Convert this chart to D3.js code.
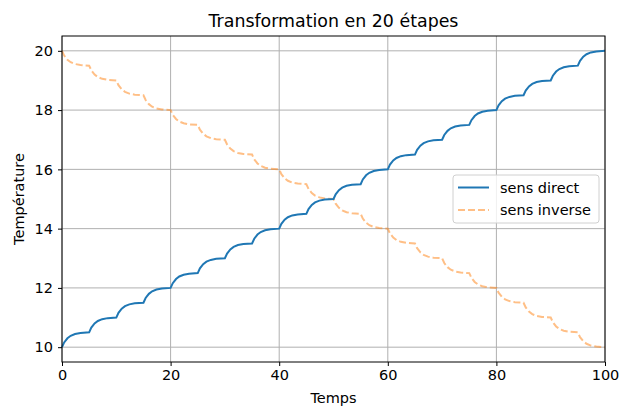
<!DOCTYPE html>
<html>
<head>
<meta charset="utf-8">
<script src="https://cdn.jsdelivr.net/npm/d3@7"></script>
<style>
    body { margin: 0; background: #fff; }
    text { font-family: "DejaVu Sans", sans-serif; }
</style>
</head>
<body>
<div id="chart"></div>
<script>
// time samples (s)
const times = [
    0, 0.4, 1, 1.6, 2.4, 3.4,
    5, 5.4, 6, 6.6, 7.4, 8.4,
    10, 10.4, 11, 11.6, 12.4, 13.4,
    15, 15.4, 16, 16.6, 17.4, 18.4,
    20, 20.4, 21, 21.6, 22.4, 23.4,
    25, 25.4, 26, 26.6, 27.4, 28.4,
    30, 30.4, 31, 31.6, 32.4, 33.4,
    35, 35.4, 36, 36.6, 37.4, 38.4,
    40, 40.4, 41, 41.6, 42.4, 43.4,
    45, 45.4, 46, 46.6, 47.4, 48.4,
    50, 50.4, 51, 51.6, 52.4, 53.4,
    55, 55.4, 56, 56.6, 57.4, 58.4,
    60, 60.4, 61, 61.6, 62.4, 63.4,
    65, 65.4, 66, 66.6, 67.4, 68.4,
    70, 70.4, 71, 71.6, 72.4, 73.4,
    75, 75.4, 76, 76.6, 77.4, 78.4,
    80, 80.4, 81, 81.6, 82.4, 83.4,
    85, 85.4, 86, 86.6, 87.4, 88.4,
    90, 90.4, 91, 91.6, 92.4, 93.4,
    95, 95.4, 96, 96.6, 97.4, 98.4,
    100
];

const sensDirect = [
    10, 10.16, 10.30, 10.385, 10.445, 10.48,
    10.5, 10.66, 10.80, 10.885, 10.945, 10.98,
    11, 11.16, 11.30, 11.385, 11.445, 11.48,
    11.5, 11.66, 11.80, 11.885, 11.945, 11.98,
    12, 12.16, 12.30, 12.385, 12.445, 12.48,
    12.5, 12.66, 12.80, 12.885, 12.945, 12.98,
    13, 13.16, 13.30, 13.385, 13.445, 13.48,
    13.5, 13.66, 13.80, 13.885, 13.945, 13.98,
    14, 14.16, 14.30, 14.385, 14.445, 14.48,
    14.5, 14.66, 14.80, 14.885, 14.945, 14.98,
    15, 15.16, 15.30, 15.385, 15.445, 15.48,
    15.5, 15.66, 15.80, 15.885, 15.945, 15.98,
    16, 16.16, 16.30, 16.385, 16.445, 16.48,
    16.5, 16.66, 16.80, 16.885, 16.945, 16.98,
    17, 17.16, 17.30, 17.385, 17.445, 17.48,
    17.5, 17.66, 17.80, 17.885, 17.945, 17.98,
    18, 18.16, 18.30, 18.385, 18.445, 18.48,
    18.5, 18.66, 18.80, 18.885, 18.945, 18.98,
    19, 19.16, 19.30, 19.385, 19.445, 19.48,
    19.5, 19.66, 19.80, 19.885, 19.945, 19.98,
    20
];

const sensInverse = [
    20, 19.84, 19.70, 19.615, 19.555, 19.52,
    19.5, 19.34, 19.20, 19.115, 19.055, 19.02,
    19, 18.84, 18.70, 18.615, 18.555, 18.52,
    18.5, 18.34, 18.20, 18.115, 18.055, 18.02,
    18, 17.84, 17.70, 17.615, 17.555, 17.52,
    17.5, 17.34, 17.20, 17.115, 17.055, 17.02,
    17, 16.84, 16.70, 16.615, 16.555, 16.52,
    16.5, 16.34, 16.20, 16.115, 16.055, 16.02,
    16, 15.84, 15.70, 15.615, 15.555, 15.52,
    15.5, 15.34, 15.20, 15.115, 15.055, 15.02,
    15, 14.84, 14.70, 14.615, 14.555, 14.52,
    14.5, 14.34, 14.20, 14.115, 14.055, 14.02,
    14, 13.84, 13.70, 13.615, 13.555, 13.52,
    13.5, 13.34, 13.20, 13.115, 13.055, 13.02,
    13, 12.84, 12.70, 12.615, 12.555, 12.52,
    12.5, 12.34, 12.20, 12.115, 12.055, 12.02,
    12, 11.84, 11.70, 11.615, 11.555, 11.52,
    11.5, 11.34, 11.20, 11.115, 11.055, 11.02,
    11, 10.84, 10.70, 10.615, 10.555, 10.52,
    10.5, 10.34, 10.20, 10.115, 10.055, 10.02,
    10
];

const xTicks = [0, 20, 40, 60, 80, 100];
const yTicks = [10, 12, 14, 16, 18, 20];
const seriesNames = ["sens direct", "sens inverse"];

const dim = { width: 629, height: 406 };
const margin = { top: 36, left: 62, right: 24, bottom: 44 };
const fontSize = 14.5;

const svg = d3.select("#chart").append("svg")
    .attr("width", dim.width)
    .attr("height", dim.height);

const xScale = d3.scaleLinear()
    .domain([0, 100])
    .range([margin.left, dim.width - margin.right]);

const yScale = d3.scaleLinear()
    .domain([9.5, 20.5])
    .range([dim.height - margin.bottom, margin.top]);

// grid
svg.append("g").selectAll("line")
    .data(xTicks)
    .enter().append("line")
    .attr("x1", d => xScale(d)).attr("x2", d => xScale(d))
    .attr("y1", margin.top).attr("y2", dim.height - margin.bottom)
    .attr("stroke", "#b0b0b0").attr("stroke-width", 1);

svg.append("g").selectAll("line")
    .data(yTicks)
    .enter().append("line")
    .attr("x1", margin.left).attr("x2", dim.width - margin.right)
    .attr("y1", d => yScale(d)).attr("y2", d => yScale(d))
    .attr("stroke", "#b0b0b0").attr("stroke-width", 1);

const line = vals => d3.line()
    .x((d, i) => xScale(times[i]))
    .y(d => yScale(d))(vals);

svg.append("path")
    .attr("d", line(sensInverse))
    .attr("fill", "none")
    .attr("stroke", "#ff7f0e")
    .attr("stroke-opacity", 0.5)
    .attr("stroke-width", 2)
    .attr("stroke-dasharray", "7,3");

svg.append("path")
    .attr("d", line(sensDirect))
    .attr("fill", "none")
    .attr("stroke", "#1f77b4")
    .attr("stroke-width", 2);

// axes
const xAxis = svg.append("g")
    .attr("transform", `translate(0, ${dim.height - margin.bottom})`)
    .call(d3.axisBottom(xScale).tickValues(xTicks).tickSize(4).tickPadding(4));

const yAxis = svg.append("g")
    .attr("transform", `translate(${margin.left}, 0)`)
    .call(d3.axisLeft(yScale).tickValues(yTicks).tickSize(4).tickPadding(5));

[xAxis, yAxis].forEach(a => {
    a.selectAll("text").attr("font-size", fontSize).attr("fill", "#000")
        .attr("font-family", "DejaVu Sans");
    a.selectAll("line").attr("stroke", "#000");
    a.select(".domain").remove();
});

// frame
svg.append("rect")
    .attr("x", margin.left).attr("y", margin.top)
    .attr("width", dim.width - margin.left - margin.right)
    .attr("height", dim.height - margin.top - margin.bottom)
    .attr("fill", "none").attr("stroke", "#000").attr("stroke-width", 1);

// labels
svg.append("text")
    .attr("x", (margin.left + dim.width - margin.right) / 2)
    .attr("y", 27)
    .attr("text-anchor", "middle")
    .attr("font-size", 17.4)
    .text("Transformation en 20 étapes");

svg.append("text")
    .attr("x", (margin.left + dim.width - margin.right) / 2)
    .attr("y", 403)
    .attr("text-anchor", "middle")
    .attr("font-size", fontSize)
    .text("Temps");

svg.append("text")
    .attr("transform", `translate(24, ${(margin.top + dim.height - margin.bottom) / 2}) rotate(-90)`)
    .attr("text-anchor", "middle")
    .attr("font-size", fontSize)
    .text("Température");

// legend
const legend = svg.append("g").attr("transform", "translate(453, 175)");
legend.append("rect")
    .attr("width", 146).attr("height", 48).attr("rx", 3)
    .attr("fill", "#fff").attr("fill-opacity", 0.8)
    .attr("stroke", "#d0d0d0").attr("stroke-width", 1);

const styles = [
    { color: "#1f77b4", opacity: 1, dash: null },
    { color: "#ff7f0e", opacity: 0.5, dash: "7,3" }
];

seriesNames.forEach((name, i) => {
    const y = 12.5 + i * 22.5;
    legend.append("line")
        .attr("x1", 5).attr("x2", 36)
        .attr("y1", y).attr("y2", y)
        .attr("stroke", styles[i].color)
        .attr("stroke-opacity", styles[i].opacity)
        .attr("stroke-width", 2)
        .attr("stroke-dasharray", styles[i].dash);
    legend.append("text")
        .attr("x", 47).attr("y", y + 5)
        .attr("font-size", fontSize)
        .text(name);
});
</script>
</body>
</html>
